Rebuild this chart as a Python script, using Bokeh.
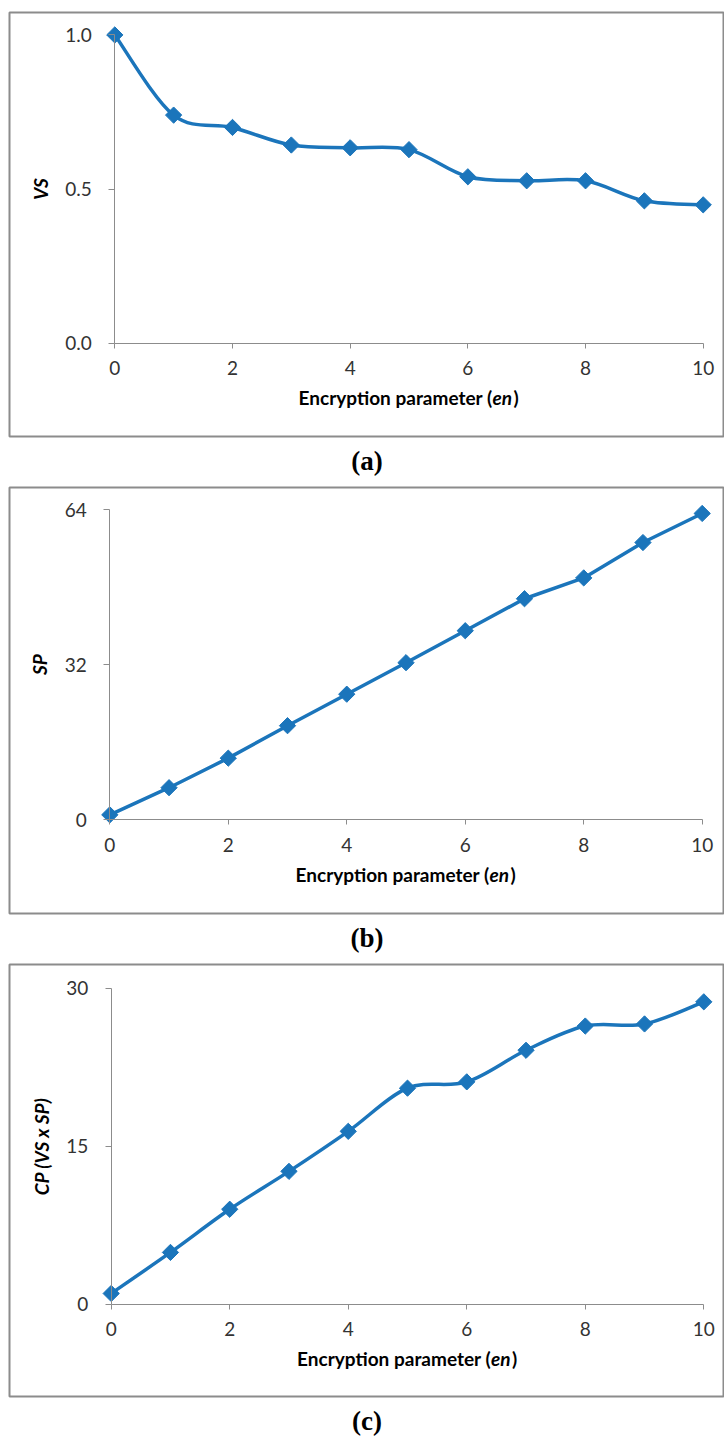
import numpy as np
from bokeh.plotting import figure
from bokeh.models import Range1d, FixedTicker, Label, Title, PrintfTickFormatter
from bokeh.layouts import column
from bokeh.embed import file_html
from bokeh.resources import INLINE

# ---------------- data ----------------
en = [0, 1, 2, 3, 4, 5, 6, 7, 8, 9, 10]
vs = [1.0, 0.74, 0.70, 0.643, 0.634, 0.628, 0.540, 0.527, 0.527, 0.462, 0.449]
sp = [1.0, 6.6, 12.7, 19.4, 25.9, 32.4, 39.0, 45.6, 49.9, 57.2, 63.2]
cp = [1.0, 4.9, 9.0, 12.6, 16.4, 20.5, 21.1, 24.1, 26.4, 26.6, 28.7]
x_ticks = [0, 2, 4, 6, 8, 10]
vs_ticks = [0, 0.5, 1.0]
sp_ticks = [0, 32, 64]
cp_ticks = [0, 15, 30]
x_title_parts = ["Encryption parameter (", "en", ")"]
y_titles = ["VS", "SP", "CP (VS x SP)"]
panel_labels = ["(a)", "(b)", "(c)"]

# ---------------- style ----------------
BLUE = "#1b75bb"
GRAY = "#8c8c8c"
TXT = "#333333"
FONT = "Lato"
W = 724


def smooth_segments(xs, ys):
    P = np.column_stack([xs, ys]).astype(float)
    n = len(P)
    seg = {k: [] for k in ["x0", "y0", "x1", "y1", "cx0", "cy0", "cx1", "cy1"]}
    for i in range(n - 1):
        pm = P[i - 1] if i > 0 else P[i]
        p0, p1 = P[i], P[i + 1]
        p2 = P[i + 2] if i + 2 < n else P[i + 1]
        c0 = p0 + (p1 - pm) / 6.0
        c1 = p1 - (p2 - p0) / 6.0
        seg["x0"].append(p0[0]); seg["y0"].append(p0[1])
        seg["x1"].append(p1[0]); seg["y1"].append(p1[1])
        seg["cx0"].append(c0[0]); seg["cy0"].append(c0[1])
        seg["cx1"].append(c1[0]); seg["cy1"].append(c1[1])
    return seg


def panel(ys, yticks, yfmt, ytitle, plabel, fig_top, fig_h, frame_top, frame_bot,
          px_x0, px_x10, px_y0, px_ytop, smooth):
    ytop_val = yticks[-1]
    u = (px_x10 - px_x0) / 10.0
    v = (px_y0 - px_ytop) / ytop_val
    frame_left, frame_right = 9, 724
    xr = Range1d((frame_left - px_x0) / u, (frame_right - px_x0) / u)
    yr = Range1d(-(frame_bot - px_y0) / v, (px_y0 - frame_top) / v)
    bt = frame_top - fig_top
    bb = fig_h - bt - (frame_bot - frame_top)
    p = figure(width=W, height=fig_h, x_range=xr, y_range=yr,
               output_backend="svg", toolbar_location=None,
               min_border_left=frame_left, min_border_right=W - frame_right,
               min_border_top=bt, min_border_bottom=bb)
    p.grid.visible = False
    p.outline_line_color = GRAY
    p.outline_line_width = 2
    p.background_fill_color = "white"
    p.border_fill_color = "white"

    xa = p.xaxis[0]
    xa.fixed_location = 0
    xa.bounds = (0, 10)
    xa.ticker = FixedTicker(ticks=x_ticks)
    xa.axis_line_color = GRAY
    xa.major_tick_line_color = GRAY
    xa.major_tick_out = 5
    xa.major_tick_in = 0
    xa.minor_tick_line_color = None
    xa.major_label_standoff = 13
    xa.major_label_text_font = FONT
    xa.major_label_text_font_size = "19px"
    xa.major_label_text_color = TXT

    ya = p.yaxis[0]
    ya.fixed_location = 0
    ya.bounds = (0, ytop_val)
    ya.ticker = FixedTicker(ticks=yticks)
    ya.formatter = PrintfTickFormatter(format=yfmt)
    ya.axis_line_color = GRAY
    ya.major_tick_line_color = GRAY
    ya.major_tick_out = 6
    ya.major_tick_in = 0
    ya.minor_tick_line_color = None
    ya.major_label_standoff = 17
    ya.major_label_text_font = FONT
    ya.major_label_text_font_size = "19px"
    ya.major_label_text_color = TXT
    ya.axis_label = ytitle
    ya.axis_label_text_font = FONT
    ya.axis_label_text_font_size = "19px"
    ya.axis_label_text_font_style = "bold italic"
    ya.axis_label_text_color = "black"
    ya.axis_label_standoff = 10

    if smooth:
        seg = smooth_segments(en, ys)
        p.bezier(x0=seg["x0"], y0=seg["y0"], x1=seg["x1"], y1=seg["y1"],
                 cx0=seg["cx0"], cy0=seg["cy0"], cx1=seg["cx1"], cy1=seg["cy1"],
                 line_color=BLUE, line_width=3.5)
    else:
        p.line(en, ys, line_color=BLUE, line_width=3.5)
    p.scatter(en, ys, marker="square", angle=np.pi / 4, size=11.5,
              fill_color=BLUE, line_color=BLUE)

    # x-axis title made of three runs (bold / bold italic / bold)
    ty = -55.0 / v
    fs = 19
    w1, w2 = 10.2 * fs, 1.1 * fs
    W_tot = w1 + w2 + 0.31 * fs
    anchor = -W_tot / 2 + w1
    common = dict(x=5, y=ty, text_font=FONT, text_font_size=f"{fs}px",
                  text_color="black", text_baseline="middle")
    p.add_layout(Label(text=x_title_parts[0], x_offset=anchor, text_align="right",
                       text_font_style="bold", **common))
    p.add_layout(Label(text=x_title_parts[1], x_offset=anchor, text_align="left",
                       text_font_style="bold italic", **common))
    p.add_layout(Label(text=x_title_parts[2], x_offset=anchor + w2, text_align="left",
                       text_font_style="bold", **common))

    p.add_layout(Title(text=plabel, align="center", text_font="Liberation Serif",
                       text_font_size="27px", text_font_style="bold",
                       text_color="black", standoff=15), "below")
    return p


pa = panel(vs, vs_ticks, "%.1f", y_titles[0], panel_labels[0],
           0, 483, 12, 441, 114.3, 702.7, 346.7, 34.7, True)
pb = panel(sp, sp_ticks, "%d", y_titles[1], panel_labels[1],
           483, 477, 487, 917, 109.3, 701.7, 822.3, 509.3, False)
pc = panel(cp, cp_ticks, "%d", y_titles[2], panel_labels[2],
           960, 483, 964, 1397, 110.7, 703.3, 1304.3, 987.7, True)

layout = column(pa, pb, pc, spacing=0)
open("out.html", "w").write(file_html(layout, INLINE))
